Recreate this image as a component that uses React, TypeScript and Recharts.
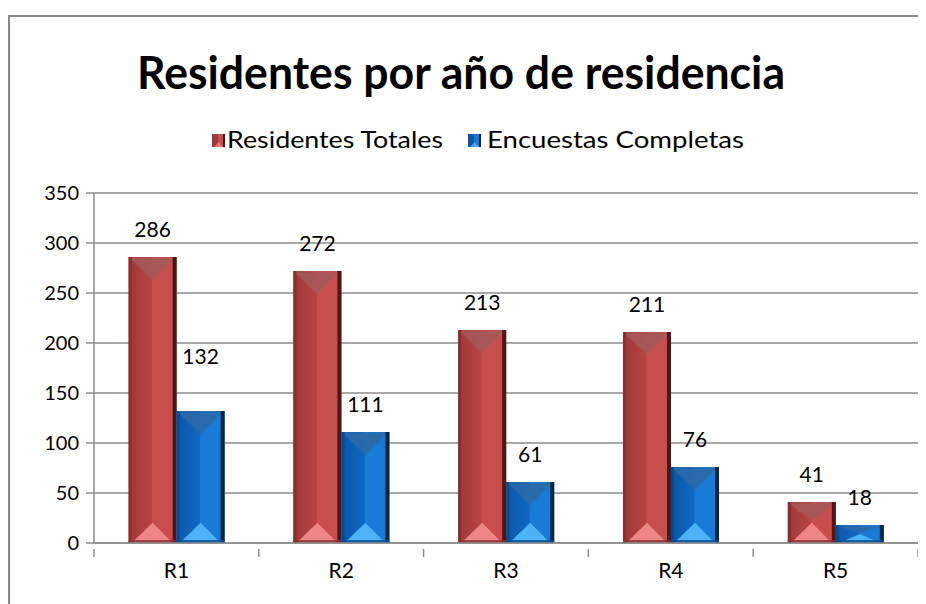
import React from "react";
import { BarChart, Bar, XAxis, YAxis, CartesianGrid, LabelList } from "recharts";

const categories = ["R1", "R2", "R3", "R4", "R5"];
const residentesTotales = [286, 272, 213, 211, 41];
const encuestasCompletas = [132, 111, 61, 76, 18];
const yTicks = [0, 50, 100, 150, 200, 250, 300, 350];
const seriesNames = ["Residentes Totales", "Encuestas Completas"];
const titleText = "Residentes por año de residencia";

const data = categories.map((c, i) => ({
  cat: c,
  tot: residentesTotales[i],
  enc: encuestasCompletas[i],
}));

const FONT = "Lato, 'Open Sans', sans-serif";
const AXIS_GRAY = "#8c8c8c";

const palettes: Record<string, any> = {
  red: {
    left: "#9c3837",
    mid: "#b84443",
    right: "#c84e4d",
    edge: "#4e1616",
    leftEdge: "#8a2f2e",
    top: "#a65858",
    bottom: "#f08585",
    grad: "gradRed",
  },
  blue: {
    left: "#0a57a6",
    mid: "#1068c4",
    right: "#1a7ad8",
    edge: "#052746",
    leftEdge: "#064b90",
    top: "#2b6aa8",
    bottom: "#4cb2f7",
    grad: "gradBlue",
  },
};

const BevelBar = (pal: any) => (props: any) => {
  const { x, y, width: w, height: h } = props;
  if (!h || h <= 0) return null;
  const topDepth = Math.min(h / 2, w * 0.5);
  const botDepth = Math.min(h / 2, w * 0.42);
  const cx = x + w / 2;
  return (
    <g>
      <rect x={x} y={y} width={w} height={h} fill={`url(#${pal.grad})`} />
      <polygon
        points={`${x},${y} ${x + w},${y} ${cx},${y + topDepth}`}
        fill={pal.top}
        opacity={0.6}
      />
      <polygon
        points={`${x + 3},${y + 2} ${x + w - 4},${y + 2} ${cx},${y + topDepth - 3}`}
        fill={pal.top}
        opacity={0.8}
      />
      <polygon
        points={`${x + 3},${y + h} ${x + w - 4},${y + h} ${cx},${y + h - botDepth}`}
        fill={pal.bottom}
      />
      <rect x={x} y={y} width={3} height={h} fill={pal.leftEdge} />
      <rect x={x + w - 4} y={y} width={4} height={h} fill={pal.edge} />
      <rect x={x} y={y + h - 3} width={w} height={3} fill={pal.leftEdge} opacity={0.8} />
    </g>
  );
};

const RedBar = BevelBar(palettes.red);
const BlueBar = BevelBar(palettes.blue);

const makeLabel = (lifts: number[]) => (props: any) => {
  const { x, y, width, value, index } = props;
  const lift = lifts[index] || 0;
  return (
    <text
      x={x + width / 2}
      y={y - 20 - lift}
      textAnchor="middle"
      fontFamily={FONT}
      fontSize={21}
      fill="#000"
    >
      {value}
    </text>
  );
};

const CategoryTick = (props: any) => {
  const { x, y, payload, index, visibleTicksCount, width } = props;
  const count = visibleTicksCount || categories.length;
  const bw = (width || 0) / count;
  const top = y - 9;
  return (
    <g>
      <line x1={x - bw / 2} y1={top} x2={x - bw / 2} y2={top + 8} stroke={AXIS_GRAY} strokeWidth={1.5} />
      {index === count - 1 && (
        <line x1={x + bw / 2} y1={top} x2={x + bw / 2} y2={top + 8} stroke={AXIS_GRAY} strokeWidth={1.5} />
      )}
      <text x={x} y={y} dy={20} textAnchor="middle" fontFamily={FONT} fontSize={21} fill="#000">
        {payload.value}
      </text>
    </g>
  );
};

const LegendSwatch = ({ x, y, pal }: any) => (
  <g>
    <rect x={x} y={y} width={13} height={13} fill={pal.left} />
    <rect x={x + 6} y={y} width={7} height={13} fill={pal.right} />
    <rect x={x + 11} y={y} width={2} height={13} fill={pal.edge} />
    <polygon points={`${x + 2},${y + 13} ${x + 11},${y + 13} ${x + 6.5},${y + 8}`} fill={pal.bottom} opacity={0.8} />
  </g>
);

export default function App() {
  return (
    <div style={{ position: "relative", width: 918, height: 589, paddingTop: 7, overflow: "hidden" }}>
      <div style={{ position: "absolute", left: 2, top: 9 }}>
        <BarChart
          width={916}
          height={578}
          data={data}
          margin={{ top: 176, right: 8, left: 0, bottom: 7 }}
          barCategoryGap="21%"
          barGap={0}
        >
          <defs>
            <linearGradient id="gradRed" x1="0" y1="0" x2="1" y2="0">
              <stop offset="0" stopColor={palettes.red.left} />
              <stop offset="0.48" stopColor={palettes.red.mid} />
              <stop offset="0.5" stopColor={palettes.red.right} />
              <stop offset="1" stopColor={palettes.red.right} />
            </linearGradient>
            <linearGradient id="gradBlue" x1="0" y1="0" x2="1" y2="0">
              <stop offset="0" stopColor={palettes.blue.left} />
              <stop offset="0.48" stopColor={palettes.blue.mid} />
              <stop offset="0.5" stopColor={palettes.blue.right} />
              <stop offset="1" stopColor={palettes.blue.right} />
            </linearGradient>
          </defs>
          <CartesianGrid vertical={false} stroke={AXIS_GRAY} strokeWidth={1.5} />
          <XAxis
            dataKey="cat"
            tickLine={false}
            axisLine={{ stroke: AXIS_GRAY, strokeWidth: 1.5 }}
            tick={<CategoryTick />}
            tickMargin={9}
            height={45}
            interval={0}
          />
          <YAxis
            domain={[0, 350]}
            ticks={yTicks}
            width={84}
            tickSize={8}
            tickMargin={7}
            tickLine={{ stroke: AXIS_GRAY, strokeWidth: 1.5 }}
            axisLine={{ stroke: AXIS_GRAY, strokeWidth: 1.5 }}
            tick={{ fontFamily: FONT, fontSize: 20, fill: "#000" }}
          />
          <Bar dataKey="tot" name={seriesNames[0]} shape={RedBar} isAnimationActive={false}>
            <LabelList dataKey="tot" content={makeLabel([0, 0, 0, 0, 0])} />
          </Bar>
          <Bar dataKey="enc" name={seriesNames[1]} shape={BlueBar} isAnimationActive={false}>
            <LabelList dataKey="enc" content={makeLabel([27, 0, 0, 0, 0])} />
          </Bar>
        </BarChart>
      </div>
      <svg width={918} height={166} style={{ position: "absolute", left: 0, top: 7, zIndex: 5 }}>
        <rect x={0} y={0} width={918} height={166} fill="#fff" />
        <line x1={0} y1={1} x2={918} y2={1} stroke="#8a8a8a" strokeWidth={2} />
        <text
          x={453}
          y={74}
          textAnchor="middle"
          fontFamily={FONT}
          fontWeight={700}
          fontSize={46}
          textLength={648}
          lengthAdjust="spacingAndGlyphs"
          fill="#000"
        >
          {titleText}
        </text>
        <LegendSwatch x={204} y={119} pal={palettes.red} />
        <text x={219} y={133} fontFamily={FONT} fontSize={23} textLength={216} lengthAdjust="spacingAndGlyphs" fill="#000">
          {seriesNames[0]}
        </text>
        <LegendSwatch x={460} y={119} pal={palettes.blue} />
        <text x={479} y={133} fontFamily={FONT} fontSize={23} textLength={257} lengthAdjust="spacingAndGlyphs" fill="#000">
          {seriesNames[1]}
        </text>
      </svg>
      <div
        style={{
          position: "absolute",
          left: 0,
          top: 7,
          width: 2,
          height: 600,
          background: "#8a8a8a",
          zIndex: 6,
        }}
      />
    </div>
  );
}
